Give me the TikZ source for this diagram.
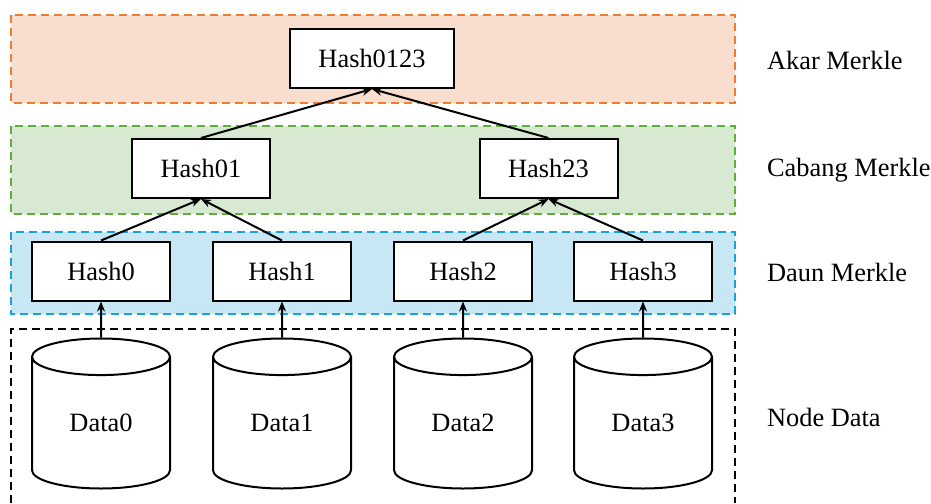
\documentclass[tikz,border=0pt]{standalone}
\usepackage{fontspec}
\setmainfont{Liberation Serif}
\usepackage{tikz}
\usetikzlibrary{shapes.geometric,arrows.meta}
\usepackage[dvipsnames]{xcolor}

\definecolor{akarline}{HTML}{ED7D31}
\definecolor{akarfill}{HTML}{F9DECF}
\definecolor{cabangline}{HTML}{5FAD3C}
\definecolor{cabangfill}{HTML}{D7EAD1}
\definecolor{daunline}{HTML}{1BA1DA}
\definecolor{daunfill}{HTML}{C6E7F3}

\begin{document}
\begin{tikzpicture}[x=0.5pt,y=-0.5pt,
        font=\fontsize{13.2}{16}\selectfont,
        layer/.style={dash pattern=on 4pt off 2.5pt,line width=1pt}
    ]
        \useasboundingbox (0,0) rectangle (931,503);

        % the four layers
        \filldraw[layer,draw=akarline,fill=akarfill] (11,15) rectangle (735,103);
        \filldraw[layer,draw=cabangline,fill=cabangfill] (11,126) rectangle (735,214);
        \filldraw[layer,draw=daunline,fill=daunfill] (11,232) rectangle (735,314);
        \draw[layer,draw=black] (11,503) -- (11,329) -- (735,329) -- (735,503);

        \node[anchor=west] (L1) at (760,60) {Akar Merkle};
        \node[anchor=west] (L2) at (760,170) {Cabang Merkle};
        \node[anchor=west] (L3) at (760,272) {Daun Merkle};
        \node[anchor=west] (L4) at (760,417) {Node Data};

        \begin{scope}[
            every node/.style={shape=rectangle,draw=black,fill=white,line width=1pt,
                minimum width=69pt,minimum height=29.5pt,inner sep=0pt}
        ]
            \node[minimum width=82pt] (H0123) at (372,58.5) {Hash0123};

            \node (H01) at (201,168.5) {Hash01};
            \node (H23) at (548.5,168.5) {Hash23};

            \node (H0) at (101,271) {Hash0};
            \node (H1) at (282,271) {Hash1};
            \node (H2) at (463,271) {Hash2};
            \node (H3) at (643,271) {Hash3};
        \end{scope}

        \begin{scope}[
            every node/.style={shape=cylinder,shape border rotate=90,aspect=0.58,
                anchor=shape center,draw=black,fill=white,line width=1pt,
                minimum width=69pt,minimum height=75pt,inner sep=0pt}
        ]
            \node (D0) at (101,413.5) {Data0};
            \node (D1) at (282,413.5) {Data1};
            \node (D2) at (463,413.5) {Data2};
            \node (D3) at (643,413.5) {Data3};
        \end{scope}

        \begin{scope}[
            every edge/.style={draw=black,line width=1pt,-{Stealth[length=5pt,width=4pt]}}
        ]
            \path (H01.north) edge (H0123.south);
            \path (H23.north) edge (H0123.south);

            \path (H0.north) edge (H01.south);
            \path (H1.north) edge (H01.south);
            \path (H2.north) edge (H23.south);
            \path (H3.north) edge (H23.south);

            \path (D0.north) edge (H0.south);
            \path (D1.north) edge (H1.south);
            \path (D2.north) edge (H2.south);
            \path (D3.north) edge (H3.south);
        \end{scope}
    \end{tikzpicture}
\end{document}
